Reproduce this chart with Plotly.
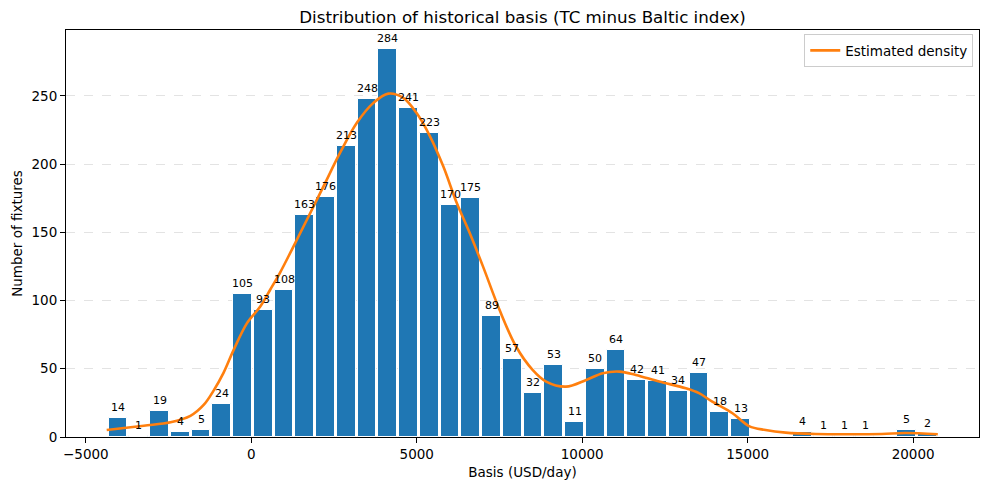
import plotly.graph_objects as go

# ---- data ----
bin_start = -4340.0
bin_width = 627.0
counts = [14, 1, 19, 4, 5, 24, 105, 93, 108, 163, 176, 213, 248, 284, 241, 223,
          170, 175, 89, 57, 32, 53, 11, 50, 64, 42, 41, 34, 47, 18, 13, 0, 0,
          4, 1, 1, 1, 0, 5, 2]

kde_x = [-4370, -3250, -2440, -1840, -1440, -1140, -840, -530, -130, 270, 570,
         870, 1230, 1680, 2180, 2680, 3190, 3690, 4140, 4590, 4990, 5400, 5800,
         6200, 6600, 7000, 7500, 8000, 8500, 8910, 9510, 10120, 10620, 11120,
         11620, 12330, 13130, 13530, 13930, 14540, 15040, 15540, 16150, 17050,
         18050, 19060, 19760, 20745]
kde_y = [5.1, 8.3, 10.8, 15.5, 23.5, 34, 47, 64, 83.4, 95.6, 107.9, 120.5, 137.5,
         159.2, 183.6, 208.1, 230.2, 244.8, 251.6, 248.5, 237.5, 220.3, 198.3,
         172, 149.4, 125, 93.2, 66.3, 49.2, 40.6, 36.9, 41.8, 46.7, 47.9, 45.5,
         40.6, 35.7, 32.1, 25.9, 17.4, 8.0, 5.1, 3.2, 2.2, 2.0, 2.2, 2.9, 2.0]

x_ticks = [-5000, 0, 5000, 10000, 15000, 20000]
x_tick_text = ["\u22125000", "0", "5000", "10000", "15000", "20000"]
y_ticks = [0, 50, 100, 150, 200, 250]

title = "Distribution of historical basis (TC minus Baltic index)"
x_title = "Basis (USD/day)"
y_title = "Number of fixtures"
kde_name = "Estimated density"

# ---- figure ----
centers = [bin_start + (i + 0.5) * bin_width for i in range(len(counts))]
FONT = "DejaVu Sans"

fig = go.Figure()
fig.add_trace(go.Bar(
    x=centers, y=counts, width=[bin_width * 0.9] * len(counts),
    marker=dict(color="#1f77b4", line=dict(color="white", width=1)),
    showlegend=False, hoverinfo="skip",
))
fig.add_trace(go.Scatter(
    x=kde_x, y=kde_y, mode="lines", name=kde_name,
    line=dict(color="#ff7f0e", width=2.6, shape="spline", smoothing=1.0),
))

annotations = []
for cx, c in zip(centers, counts):
    if c > 0:
        annotations.append(dict(
            x=cx, y=c, xref="x", yref="y", text=str(c), showarrow=False,
            yanchor="bottom", yshift=2,
            font=dict(family=FONT, size=11, color="black"),
        ))

axis_common = dict(
    showline=True, linecolor="black", linewidth=1.1, mirror=True,
    ticks="outside", ticklen=5, tickwidth=1.1, tickcolor="black",
    tickfont=dict(family=FONT, size=13.5, color="black"),
    zeroline=False,
)

fig.update_layout(
    width=989, height=490,
    margin=dict(l=66, r=10, t=30, b=53),
    paper_bgcolor="white", plot_bgcolor="white",
    bargap=0,
    title=dict(text=title, x=(66 + 979) / 2 / 989, xanchor="center",
               y=1 - 17 / 490, yanchor="middle",
               font=dict(family=FONT, size=16.7, color="black")),
    xaxis=dict(range=[-5600, 21990], tickvals=x_ticks, ticktext=x_tick_text,
               showgrid=False,
               title=dict(text=x_title, font=dict(family=FONT, size=13.5, color="black"),
                          standoff=6),
               **axis_common),
    yaxis=dict(range=[0, 298.2], tickvals=y_ticks, showgrid=True,
               gridcolor="#e3e3e3", griddash="dash", gridwidth=1,
               title=dict(text=y_title, font=dict(family=FONT, size=13.5, color="black"),
                          standoff=5),
               **axis_common),
    legend=dict(x=0.9937, xanchor="right", y=0.99, yanchor="top",
                bgcolor="white", bordercolor="#cccccc", borderwidth=1,
                font=dict(family=FONT, size=13.5, color="black"),
                itemwidth=30, tracegroupgap=0),
    annotations=annotations,
)

fig.write_html("out.html")
